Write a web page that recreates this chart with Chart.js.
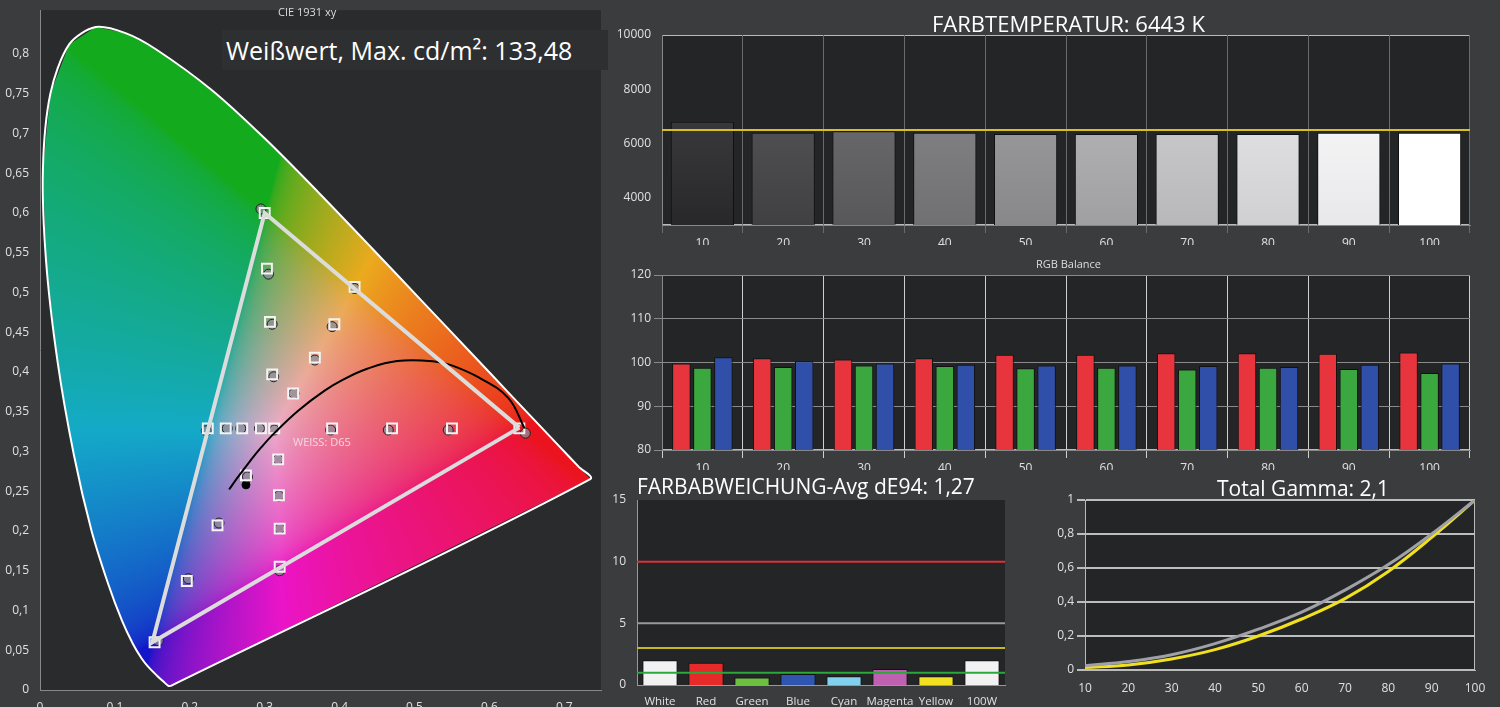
<!DOCTYPE html>
<html><head><meta charset="utf-8">
<script src="https://cdn.jsdelivr.net/npm/chart.js@4/dist/chart.umd.min.js"></script>
<style>
body{margin:0;width:1500px;height:707px;background:#3b3c3e;overflow:hidden;font-family:"Open Sans",sans-serif;color:#fff}
.box{position:absolute}
.lbl{position:absolute;white-space:nowrap;line-height:1}
</style></head><body>
<div class="box" style="left:0;top:0;width:610px;height:707px"><canvas id="cie"></canvas></div>
<div class="box" style="left:610px;top:0;width:890px;height:245px"><canvas id="temp"></canvas></div>
<div class="box" style="left:610px;top:255px;width:890px;height:215px"><canvas id="rgb"></canvas></div>
<div class="box" style="left:610px;top:480px;width:430px;height:227px"><canvas id="de"></canvas></div>
<div class="box" style="left:1040px;top:480px;width:460px;height:227px"><canvas id="gamma"></canvas></div>
<div class="lbl" style="left:278px;top:6px;font-size:11px;color:#ddd">CIE 1931 xy</div>
<div class="lbl" style="left:222px;top:30px;width:386px;height:40px;background:#2e2f31;font-size:25px;padding:8px 0 0 4px;box-sizing:border-box">Weißwert, Max. cd/m²: 133,48</div>
<div class="lbl" style="left:293px;top:436px;font-size:11px;color:#f4d8e0">WEISS: D65</div>
<div class="lbl" style="left:928px;top:12px;background:#3b3c3e;padding:0 4px;font-size:22px">FARBTEMPERATUR: 6443 K</div>
<div class="lbl" style="left:1036px;top:258px;font-size:11px;color:#ddd">RGB Balance</div>
<div class="lbl" style="left:637px;top:476px;font-size:21px">FARBABWEICHUNG-Avg dE94: 1,27</div>
<div class="lbl" style="left:1212px;top:478px;background:#3b3c3e;padding:0 5px;font-size:21px">Total Gamma: 2,1</div>
<script>
// spectral locus (CIE 1931 2°)
const locusX = [0.1741,0.1714,0.1644,0.1566,0.1440,0.1355,0.1241,0.1096,0.0913,0.0687,0.0454,0.0235,0.0082,0.0039,0.0139,0.0389,0.0743,0.1142,0.1547,0.2296,0.3016,0.3731,0.4441,0.5125,0.5752,0.6270,0.6915,0.7190,0.7347,0.1741];
const locusY = [0.0050,0.0051,0.0109,0.0177,0.0297,0.0399,0.0578,0.0868,0.1327,0.2007,0.2950,0.4127,0.5384,0.6548,0.7502,0.8120,0.8338,0.8262,0.8059,0.7543,0.6923,0.6245,0.5547,0.4866,0.4242,0.3725,0.3083,0.2809,0.2653,0.0050];
const gamutX = [0.64,0.30,0.15,0.64];
const gamutY = [0.33,0.60,0.06,0.33];
const planckX = [0.2525,0.2637,0.2807,0.2950,0.3135,0.3451,0.3805,0.4053,0.4369,0.4770,0.5267,0.5497,0.5857,0.6251,0.6470];
const planckY = [0.2522,0.2671,0.2883,0.3048,0.3237,0.3516,0.3768,0.3907,0.4041,0.4137,0.4133,0.4083,0.3931,0.3674,0.3290];
const targetX = [0.3127,0.39,0.47,0.55,0.64,0.303,0.307,0.31,0.30,0.338,0.367,0.393,0.42,0.295,0.27,0.248,0.224,0.275,0.237,0.196,0.153,0.318,0.319,0.32,0.32];
const targetY = [0.329,0.329,0.329,0.329,0.329,0.53,0.463,0.397,0.60,0.373,0.418,0.46,0.507,0.329,0.329,0.329,0.329,0.27,0.207,0.137,0.06,0.29,0.245,0.203,0.155];
const measX = [0.313,0.388,0.465,0.545,0.648,0.305,0.31,0.312,0.295,0.339,0.367,0.39,0.42,0.293,0.268,0.25,0.222,0.277,0.239,0.198,0.158,0.318,0.319,0.32,0.32];
const measY = [0.327,0.327,0.327,0.327,0.323,0.523,0.46,0.394,0.605,0.373,0.415,0.457,0.505,0.329,0.329,0.329,0.326,0.268,0.21,0.14,0.062,0.29,0.244,0.203,0.15];
const blackX = [0.275], blackY = [0.258];
const cieXTicks = [0,0.1,0.2,0.3,0.4,0.5,0.6,0.7];
const cieYTicks = [0,0.05,0.1,0.15,0.2,0.25,0.3,0.35,0.4,0.45,0.5,0.55,0.6,0.65,0.7,0.75,0.8];

const steps = ["10","20","30","40","50","60","70","80","90","100"];
const colorTemp = [6800,6400,6450,6400,6350,6350,6350,6350,6400,6400];
const tempTarget = 6500;
const tempTicks = [4000,6000,8000,10000];
const rgbRed = [99.8,101,100.7,101,101.8,101.8,102.1,102.1,102,102.3];
const rgbGreen = [98.8,99,99.3,99.2,98.7,98.8,98.4,98.8,98.5,97.6];
const rgbBlue = [101.2,100.3,99.8,99.5,99.3,99.3,99.2,99,99.5,99.8];
const deLabels = ["White","Red","Green","Blue","Cyan","Magenta","Yellow","100W"];
const deValues = [2.0,1.8,0.6,0.9,0.7,1.3,0.7,2.0];
const deColors = ["#f2f2f2","#e62a2a","#6cc040","#2f55b0","#80d0ee","#c060b0","#f0e020","#f2f2f2"];
const gammaX = [10,20,30,40,50,60,70,80,90,100];
const gammaRef = [0.025,0.05,0.09,0.155,0.24,0.34,0.47,0.62,0.8,1.0];
const gammaMeas = [0.015,0.03,0.065,0.12,0.2,0.3,0.42,0.58,0.78,1.0];

Chart.defaults.devicePixelRatio = 1;
Chart.defaults.font.family = "'Open Sans', sans-serif";
Chart.defaults.font.size = 12;
Chart.defaults.color = "#e0e0e0";
Chart.defaults.animation = false;
Chart.defaults.plugins.legend.display = false;
Chart.defaults.plugins.tooltip.enabled = false;

const comma = v => String(+(+v).toFixed(2)).replace(".", ",");
const pts = (xs, ys) => xs.map((x, i) => ({x, y: ys[i]}));
const fixW = w => s => { s.width = w; };
const fixH = h => s => { s.height = h; };
const setTicks = list => s => { s.ticks = list.map(v => ({ value: v })); };

// plot area background + frame
const areaBg = (fill, frame) => ({
  id: "areaBg",
  beforeDraw(c) {
    const a = c.chartArea, g = c.ctx;
    g.save(); g.fillStyle = fill; g.fillRect(a.left, a.top, a.width, a.height);
    if (frame) { g.strokeStyle = frame; g.lineWidth = 1; g.strokeRect(a.left + .5, a.top + .5, a.width - 1, a.height - 1); }
    g.restore();
  }
});

// horizontal reference lines
const refLines = lines => {
  const draw = (c, list) => {
    const a = c.chartArea, g = c.ctx, y = c.scales.y;
    g.save();
    list.forEach(l => {
      g.strokeStyle = l.color; g.lineWidth = l.width;
      const py = y.getPixelForValue(l.value);
      g.beginPath(); g.moveTo(a.left, py); g.lineTo(a.right, py); g.stroke();
    });
    g.restore();
  };
  return {
    id: "refLines",
    beforeDatasetsDraw(c) { draw(c, lines.filter(l => !l.front)); },
    afterDatasetsDraw(c) { draw(c, lines.filter(l => l.front)); }
  };
};

// chromaticity fill inside the spectral locus
const cieFill = {
  id: "cieFill",
  beforeDatasetsDraw(c) {
    const a = c.chartArea, g = c.ctx, sx = c.scales.x, sy = c.scales.y;
    const w = Math.round(a.width), h = Math.round(a.height);
    const off = document.createElement("canvas"); off.width = w; off.height = h;
    const oc = off.getContext("2d"), img = oc.createImageData(w, h);
    const gam = v => v <= 0.0031308 ? 12.92 * v : 1.055 * Math.pow(v, 1 / 2.4) - 0.055;
    for (let j = 0; j < h; j++) {
      const yy = Math.max(sy.getValueForPixel(a.top + j), 0.001);
      for (let i = 0; i < w; i++) {
        const xx = sx.getValueForPixel(a.left + i);
        const X = xx / yy, Y = 1, Z = (1 - xx - yy) / yy;
        let r = 3.2406 * X - 1.5372 * Y - 0.4986 * Z;
        let gg = -0.9689 * X + 1.8758 * Y + 0.0415 * Z;
        let b = 0.0557 * X - 0.2040 * Y + 1.0570 * Z;
        r = Math.max(r, 0); gg = Math.max(gg, 0); b = Math.max(b, 0);
        const m = Math.max(r, gg, b) || 1;
        const k = (j * w + i) * 4;
        img.data[k] = 20 + gam(r / m) * 215; img.data[k + 1] = 20 + gam(gg / m) * 150; img.data[k + 2] = 30 + gam(b / m) * 170; img.data[k + 3] = 255;
      }
    }
    oc.putImageData(img, 0, 0);
    g.save();
    g.beginPath();
    locusX.forEach((x, i) => { const px = sx.getPixelForValue(x), py = sy.getPixelForValue(locusY[i]); i ? g.lineTo(px, py) : g.moveTo(px, py); });
    g.closePath(); g.clip();
    g.drawImage(off, a.left, a.top);
    g.restore();
  }
};

new Chart(document.getElementById("cie"), {
  type: "scatter",
  data: { datasets: [
    { data: pts(locusX, locusY), showLine: true, borderColor: "#fff", borderWidth: 2, pointRadius: 0, tension: 0.3 },
    { data: pts(gamutX, gamutY), showLine: true, borderColor: "#dcdcdc", borderWidth: 4, pointRadius: 0 },
    { data: pts(planckX, planckY), showLine: true, borderColor: "#000", borderWidth: 2, pointRadius: 0, tension: 0.4 },
    { data: pts(targetX, targetY), pointStyle: "rect", pointRadius: 7, backgroundColor: "rgba(0,0,0,0)", borderColor: "#f4f4f4", borderWidth: 2 },
    { data: pts(measX, measY), pointRadius: 5, backgroundColor: "rgba(140,140,150,0.75)", borderColor: "#222", borderWidth: 1 },
    { data: pts(blackX, blackY), pointRadius: 4, backgroundColor: "#000", borderColor: "#000" }
  ]},
  options: {
    responsive: true, maintainAspectRatio: false,
    layout: { padding: 0 },
    scales: {
      x: { type: "linear", min: 0, max: 0.749, afterFit: fixH(17), afterBuildTicks: setTicks(cieXTicks), grid: { display: false }, border: { color: "#888" },
           ticks: { autoSkip: false, maxRotation: 0, padding: 2, font: { size: 12 }, callback: v => comma(v) } },
      y: { type: "linear", min: 0, max: 0.855, afterFit: fixW(40), afterBuildTicks: setTicks(cieYTicks), grid: { display: false }, border: { color: "#888" },
           ticks: { autoSkip: false, font: { size: 12 }, callback: v => comma(v) } }
    }
  },
  plugins: [areaBg("#2a2b2d"), cieFill]
});

new Chart(document.getElementById("temp"), {
  type: "bar",
  data: { labels: steps, datasets: [{ data: colorTemp, borderColor: "#111", borderWidth: 1, categoryPercentage: 0.92, barPercentage: 0.85,
    backgroundColor: c => {
      const a = c.chart.chartArea; if (!a) return "#888";
      const lv = 40 + c.dataIndex * 24;
      const gr = c.chart.ctx.createLinearGradient(0, a.top, 0, a.bottom);
      gr.addColorStop(0, `rgb(${Math.min(lv + 30,255)},${Math.min(lv + 30,255)},${Math.min(lv + 32,255)})`);
      gr.addColorStop(1, `rgb(${lv},${lv},${lv + 2})`);
      return gr;
    } }] },
  options: {
    responsive: true, maintainAspectRatio: false,
    layout: { padding: { top: 35, right: 30 } },
    scales: {
      x: { afterFit: fixH(20), grid: { offset: true, color: "#6a6a6a" }, border: { color: "#888" }, ticks: { padding: 3 } },
      y: { min: 3000, max: 10000, afterFit: fixW(52), afterBuildTicks: setTicks(tempTicks), grid: { display: false }, border: { color: "#888" },
           ticks: { callback: v => String(v) } }
    }
  },
  plugins: [areaBg("#242527", "#bbb"), refLines([{ value: tempTarget, color: "#d8c020", width: 2, front: true }])]
});

new Chart(document.getElementById("rgb"), {
  type: "bar",
  data: { labels: steps, datasets: [
    { data: rgbRed, backgroundColor: "#e8343c", borderColor: "#111", borderWidth: 1 },
    { data: rgbGreen, backgroundColor: "#3aa83e", borderColor: "#111", borderWidth: 1 },
    { data: rgbBlue, backgroundColor: "#2f4fa8", borderColor: "#111", borderWidth: 1 }
  ]},
  options: {
    responsive: true, maintainAspectRatio: false, datasets: { bar: { categoryPercentage: 0.78, barPercentage: 0.88 } },
    layout: { padding: { top: 20, right: 30 } },
    scales: {
      x: { afterFit: fixH(20), grid: { offset: true, color: "#cfcfcf" }, border: { color: "#888" }, ticks: { padding: 3 } },
      y: { min: 80, max: 120, afterFit: fixW(52), grid: { color: "#8a8a8a" }, border: { color: "#888" }, ticks: { stepSize: 10 } }
    }
  },
  plugins: [areaBg("#242527", "#bbb")]
});

new Chart(document.getElementById("de"), {
  type: "bar",
  data: { labels: deLabels, datasets: [{ data: deValues, backgroundColor: deColors, borderColor: "#111", borderWidth: 1, categoryPercentage: 0.9, barPercentage: 0.85 }] },
  options: {
    responsive: true, maintainAspectRatio: false,
    layout: { padding: { top: 20, right: 35 } },
    scales: {
      x: { afterFit: fixH(22), grid: { display: false }, border: { color: "#999" }, ticks: { autoSkip: false, maxRotation: 0, minRotation: 0, padding: 2, font: { size: 11.5 } } },
      y: { min: 0, max: 15, afterFit: fixW(27), grid: { display: false }, border: { color: "#999" }, ticks: { stepSize: 5 } }
    }
  },
  plugins: [areaBg("#242527"), refLines([
    { value: 10, color: "#e0303a", width: 2 }, { value: 5, color: "#999", width: 2 },
    { value: 3, color: "#c8b820", width: 2 }, { value: 1, color: "#2aa83a", width: 2, front: true }
  ])]
});

new Chart(document.getElementById("gamma"), {
  type: "line",
  data: { datasets: [
    { data: pts(gammaX, gammaRef), borderColor: "#a0a0a8", borderWidth: 3, pointRadius: 0, tension: 0.4 },
    { data: pts(gammaX, gammaMeas), borderColor: "#f0e020", borderWidth: 3, pointRadius: 0, tension: 0.4 }
  ]},
  options: {
    responsive: true, maintainAspectRatio: false,
    layout: { padding: { top: 20, right: 25 } },
    scales: {
      x: { type: "linear", min: 10, max: 100, afterFit: fixH(37), grid: { display: false }, border: { color: "#bbb" }, ticks: { stepSize: 10, padding: 3 } },
      y: { min: 0, max: 1, afterFit: fixW(45), grid: { color: "#bdbdbd", lineWidth: 2 }, border: { color: "#bbb" }, ticks: { stepSize: 0.2, callback: v => comma(v) } }
    }
  },
  plugins: [areaBg("#242527", "#bbb")]
});
</script>
</body></html>
